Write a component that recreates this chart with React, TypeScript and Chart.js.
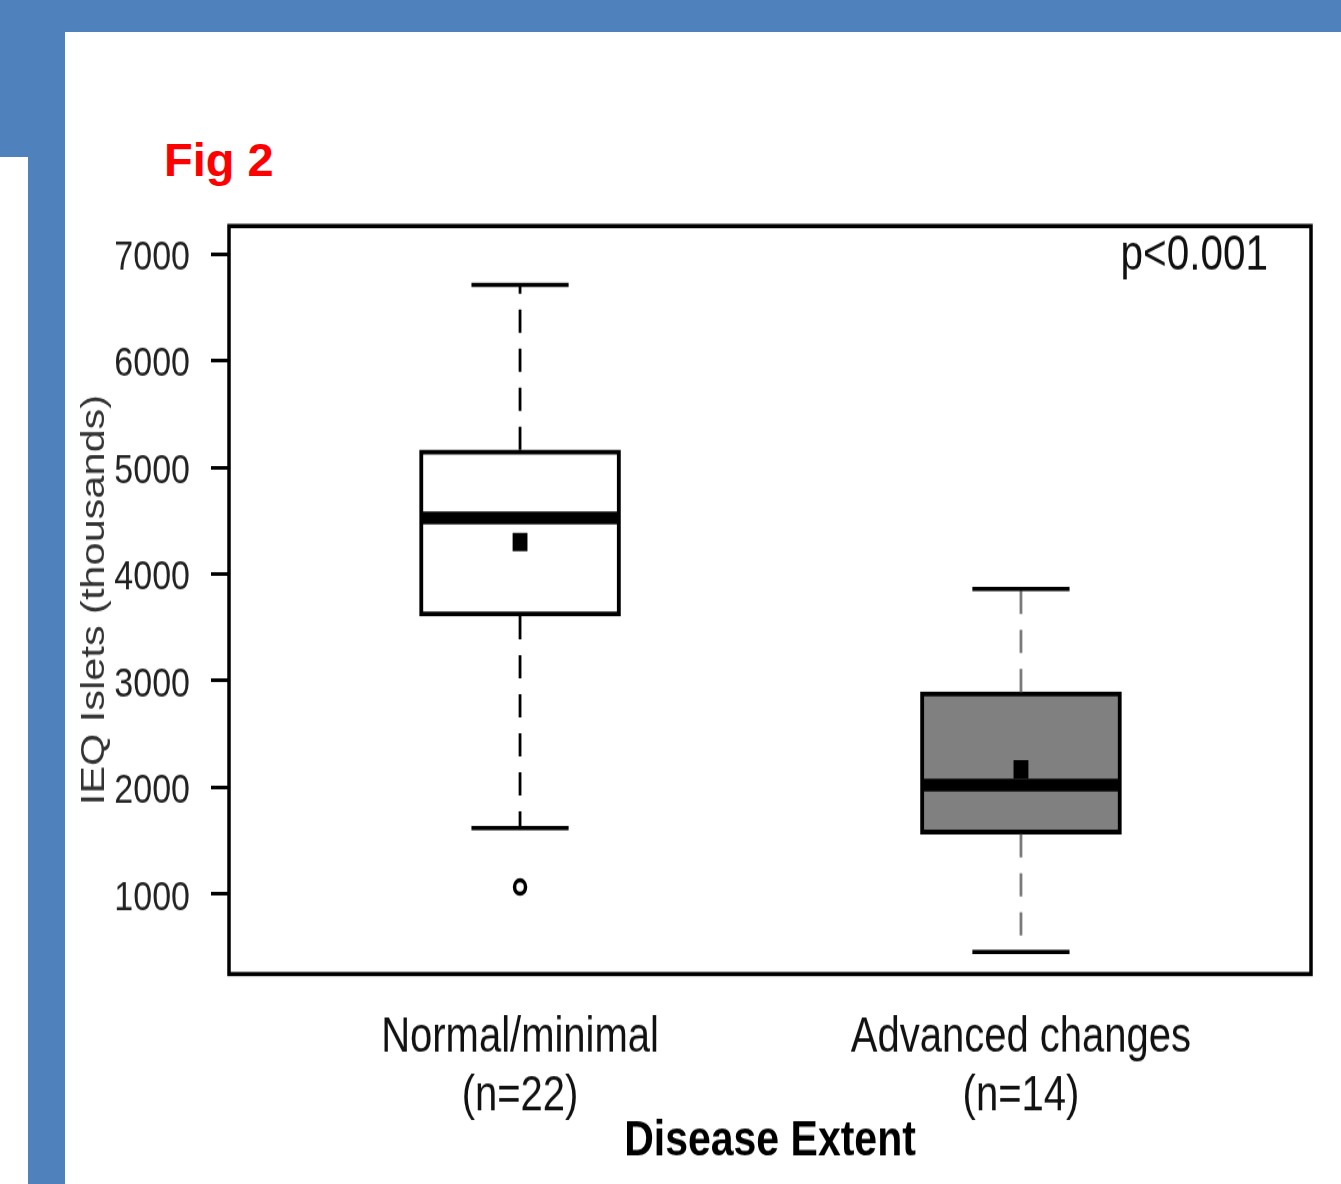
import React, { useEffect, useRef } from "react";
import { Chart, registerables } from "chart.js";

Chart.register(...registerables);

// ---- data ----
const categories: string[][] = [
  ["Normal/minimal", "(n=22)"],
  ["Advanced changes", "(n=14)"],
];
const groupPositions = [1, 2];
const whiskerLow = [1619, 456];
const q1 = [3606, 1562];
const medians = [4525, 2022];
const q3 = [5163, 2894];
const whiskerHigh = [6709, 3859];
const means = [4300, 2170];
const outlierGroups = [1];
const outlierValues = [1066];
const yTickValues = [1000, 2000, 3000, 4000, 5000, 6000, 7000];

// ---- styles / layout ----
const boxFills = ["#ffffff", "#808080"];
const whiskerColors = ["#000000", "#7a7a7a"];
const SANS = "'Liberation Sans', Arial, Helvetica, sans-serif";
const BLUE = "#4f81bd";
const BOX_HALF = 0.196;
const CAP_HALF = 0.097;
// the figure is drawn in a vertically stretched panel (like the reference image)
const S = 1.22;
const W = 1341;
const H = 971;

const framePlugin = {
  id: "frameAndP",
  afterDraw(chart: any) {
    const { ctx, chartArea } = chart;
    ctx.save();
    ctx.strokeStyle = "#000";
    ctx.lineWidth = 3.5;
    ctx.strokeRect(chartArea.left, chartArea.top, chartArea.right - chartArea.left, chartArea.bottom - chartArea.top);
    ctx.fillStyle = "#111";
    ctx.font = `40.5px ${SANS}`;
    ctx.textAlign = "right";
    ctx.textBaseline = "alphabetic";
    ctx.fillText("p<0.001", chartArea.right - 43, chartArea.top + 36);
    ctx.restore();
  },
};

export default function App() {
  const ref = useRef<HTMLCanvasElement | null>(null);

  useEffect(() => {
    if (!ref.current) return;
    const datasets: any[] = [];

    // means (on top)
    groupPositions.forEach((g, i) => {
      datasets.push({
        type: "line",
        data: [{ x: g, y: means[i] }],
        showLine: false,
        pointStyle: "rect",
        pointRadius: 10.5,
        pointBackgroundColor: "#000",
        pointBorderWidth: 0,
      });
    });
    // outliers
    datasets.push({
      type: "line",
      data: outlierGroups.map((g, i) => ({ x: g, y: outlierValues[i] })),
      showLine: false,
      pointStyle: "circle",
      pointRadius: 5.5,
      pointBackgroundColor: "#fff",
      pointBorderColor: "#000",
      pointBorderWidth: 3.5,
    });
    groupPositions.forEach((g, i) => {
      // median
      datasets.push({
        type: "line",
        data: [
          { x: g - BOX_HALF, y: medians[i] },
          { x: g + BOX_HALF, y: medians[i] },
        ],
        borderColor: "#000",
        borderWidth: 10.5,
        borderCapStyle: "butt",
        pointRadius: 0,
      });
      // caps
      [whiskerLow[i], whiskerHigh[i]].forEach((v) => {
        datasets.push({
          type: "line",
          data: [
            { x: g - CAP_HALF, y: v },
            { x: g + CAP_HALF, y: v },
          ],
          borderColor: "#000",
          borderWidth: 3.5,
          borderCapStyle: "butt",
          pointRadius: 0,
        });
      });
      // whiskers (drawn from the box outwards)
      [
        [q3[i], whiskerHigh[i]],
        [q1[i], whiskerLow[i]],
      ].forEach(([a, b]) => {
        datasets.push({
          type: "line",
          data: [
            { x: g, y: a },
            { x: g, y: b },
          ],
          borderColor: whiskerColors[i],
          borderWidth: 2.8,
          borderDash: [19, 13],
          borderCapStyle: "butt",
          pointRadius: 0,
        });
      });
    });
    // boxes (bottom layer)
    datasets.push({
      type: "bar",
      data: groupPositions.map((g, i) => ({ x: g, y: [q1[i], q3[i]] })),
      backgroundColor: boxFills,
      borderColor: "#000",
      borderWidth: 4,
      borderSkipped: false,
      barThickness: 201,
      grouped: false,
    });

    const chart = new Chart(ref.current, {
      type: "bar",
      data: { datasets },
      plugins: [framePlugin],
      options: {
        responsive: false,
        animation: false,
        devicePixelRatio: 1,
        layout: { padding: { left: 0, top: 226 / S, right: 30, bottom: 0 } },
        plugins: { legend: { display: false }, tooltip: { enabled: false } },
        scales: {
          x: {
            type: "linear",
            min: 0.419,
            max: 2.579,
            offset: false,
            afterBuildTicks: (s: any) => {
              s.ticks = groupPositions.map((v) => ({ value: v }));
            },
            afterFit: (s: any) => {
              s.height = H - 974 / S;
            },
            grid: { display: false },
            border: { display: false },
            ticks: {
              autoSkip: false,
              maxRotation: 0,
              padding: 21,
              color: "#111",
              font: { family: SANS, size: 40, lineHeight: 1.19 },
              callback: (_v: any, i: number) => categories[i],
            },
            title: {
              display: true,
              text: "Disease Extent",
              color: "#000",
              font: { family: SANS, size: 41, weight: "bold", lineHeight: 1.2 },
              padding: { top: 0, bottom: 11 },
            },
          },
          y: {
            type: "linear",
            min: 250,
            max: 7262,
            afterBuildTicks: (s: any) => {
              s.ticks = yTickValues.map((v) => ({ value: v }));
            },
            afterFit: (s: any) => {
              s.width = 229;
            },
            grid: { drawOnChartArea: false, tickLength: 18, tickWidth: 3, tickColor: "#000" },
            border: { display: false },
            ticks: {
              padding: 21,
              labelOffset: 3.5,
              color: "#222",
              font: { family: SANS, size: 34 },
              callback: (v: any) => String(v),
            },
            title: {
              display: true,
              text: "IEQ Islets (thousands)",
              color: "#333",
              font: { family: SANS, size: 34, lineHeight: 1.2 },
              padding: { top: 74.6, bottom: 0 },
            },
          },
        },
      } as any,
    });
    return () => chart.destroy();
  }, []);

  return (
    <div style={{ position: "fixed", left: 0, top: 0, width: 1341, height: 1184, background: BLUE, overflow: "hidden" }}>
      <div style={{ position: "absolute", left: 65, top: 32, width: 1276, height: 1152, background: "#fff" }} />
      <div style={{ position: "absolute", left: 0, top: 157, width: 28, height: 1027, background: "#fff" }} />
      <div
        style={{
          position: "absolute",
          left: 164,
          top: 136,
          fontFamily: SANS,
          fontWeight: "bold",
          fontSize: 47,
          lineHeight: "47px",
          color: "#ff0000",
          whiteSpace: "nowrap",
        }}
      >
        Fig 2
      </div>
      <canvas
        ref={ref}
        width={W}
        height={H}
        style={{
          position: "absolute",
          left: 0,
          top: 0,
          width: W,
          height: H,
          transform: `scaleY(${S})`,
          transformOrigin: "0 0",
        }}
      />
    </div>
  );
}
